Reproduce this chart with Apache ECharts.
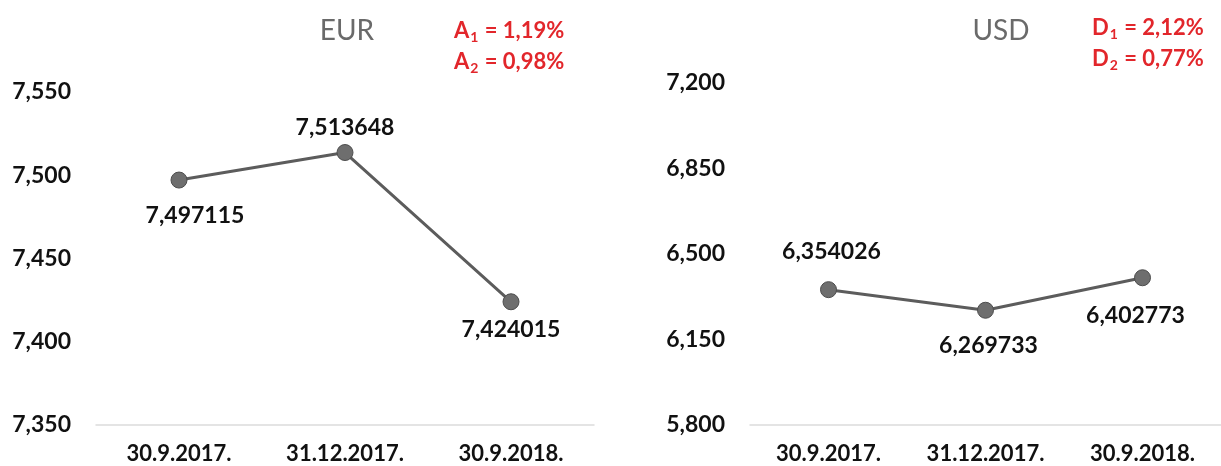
<!DOCTYPE html>
<html>
<head>
<meta charset="utf-8">
<script src="https://cdn.jsdelivr.net/npm/echarts@6/dist/echarts.min.js"></script>
<style>
html,body{margin:0;padding:0;background:#fff;}
#chart{width:1221px;height:466px;}
</style>
</head>
<body>
<div id="chart"></div>
<script>
// ---- data ----
const categories = ['30.9.2017.', '31.12.2017.', '30.9.2018.'];
const eurValues = [7.497115, 7.513648, 7.424015];
const usdValues = [6.354026, 6.269733, 6.402773];
const eurTitle = 'EUR';
const usdTitle = 'USD';
const eurAxis = { min: 7.35, max: 7.55, interval: 0.05 };
const usdAxis = { min: 5.8, max: 7.2, interval: 0.35 };
const eurNotes = [['A', '1', '1,19%'], ['A', '2', '0,98%']];
const usdNotes = [['D', '1', '2,12%'], ['D', '2', '0,77%']];

// ---- styles ----
const FONT = 'Lato, "Open Sans", sans-serif';
const RED = '#e2262b';
const eurLabelStyle = [
  { position: 'bottom', offset: [16, 11] },
  { position: 'top', offset: [0, 0] },
  { position: 'bottom', offset: [0, 3] }
];
const usdLabelStyle = [
  { position: 'top', offset: [3, -13] },
  { position: 'bottom', offset: [3, 10] },
  { position: 'bottom', offset: [-7, 13] }
];

function fmt(v, d) { return Number(v).toFixed(d).replace('.', ','); }

function makeSeries(values, labelStyles, idx) {
  return {
    type: 'line',
    xAxisIndex: idx,
    yAxisIndex: idx,
    data: values.map((v, i) => ({
      value: v,
      label: Object.assign({}, labelStyles[i])
    })),
    symbol: 'circle',
    symbolSize: 16,
    lineStyle: { color: '#5c5c5c', width: 3 },
    itemStyle: { color: '#6e6e6e', borderColor: '#4d4d4d', borderWidth: 1 },
    label: {
      show: true,
      fontFamily: FONT,
      fontWeight: 'bold',
      fontSize: 23,
      color: '#111',
      formatter: p => fmt(p.value, 6)
    },
    emphasis: { disabled: true },
    animation: false
  };
}

function makeNote(notes, x, y0) {
  return notes.map((n, i) => ({
    type: 'text',
    left: x,
    top: y0 + i * 31,
    style: {
      text: '{m|' + n[0] + '}{s|' + n[1] + '}{m| = ' + n[2] + '}',
      fill: RED,
      fontFamily: FONT,
      fontWeight: 'bold',
      fontSize: 22,
      rich: {
        m: { fontFamily: FONT, fontWeight: 'bold', fontSize: 22, fill: RED, verticalAlign: 'middle', lineHeight: 27 },
        s: { fontFamily: FONT, fontWeight: 'bold', fontSize: 14, fill: RED, verticalAlign: 'bottom', lineHeight: 27, padding: [0, 1, 0, 1] }
      }
    }
  }));
}

function yAxisOf(cfg, idx) {
  return {
    type: 'value',
    gridIndex: idx,
    min: cfg.min,
    max: cfg.max,
    interval: cfg.interval,
    axisLine: { show: false },
    axisTick: { show: false },
    splitLine: { show: false },
    axisLabel: {
      margin: 25,
      fontFamily: FONT,
      fontWeight: 'bold',
      fontSize: 23,
      color: '#111',
      formatter: v => fmt(v, 3)
    }
  };
}

function xAxisOf(idx) {
  return {
    type: 'category',
    gridIndex: idx,
    data: categories,
    boundaryGap: true,
    axisLine: { show: true, lineStyle: { color: '#dcdcdc', width: 1.5 } },
    axisTick: { show: false },
    splitLine: { show: false },
    axisLabel: {
      margin: 18,
      fontFamily: FONT,
      fontWeight: 'bold',
      fontSize: 22,
      color: '#111',
      interval: 0
    }
  };
}

const chart = echarts.init(document.getElementById('chart'), null, { renderer: 'canvas' });
chart.setOption({
  backgroundColor: '#fff',
  animation: false,
  title: [
    { text: eurTitle, left: 342, top: 12, textAlign: 'center',
      textStyle: { fontFamily: FONT, fontWeight: 'normal', fontSize: 28, color: '#6a6a6a' } },
    { text: usdTitle, left: 996, top: 12, textAlign: 'center',
      textStyle: { fontFamily: FONT, fontWeight: 'normal', fontSize: 28, color: '#6a6a6a' } }
  ],
  grid: [
    { left: 96, top: 92, width: 498, height: 333, containLabel: false },
    { left: 750, top: 83, width: 498, height: 342, containLabel: false }
  ],
  xAxis: [xAxisOf(0), xAxisOf(1)],
  yAxis: [yAxisOf(eurAxis, 0), yAxisOf(usdAxis, 1)],
  series: [makeSeries(eurValues, eurLabelStyle, 0), makeSeries(usdValues, usdLabelStyle, 1)],
  graphic: [].concat(makeNote(eurNotes, 454, 20), makeNote(usdNotes, 1092, 17))
});
</script>
</body>
</html>
